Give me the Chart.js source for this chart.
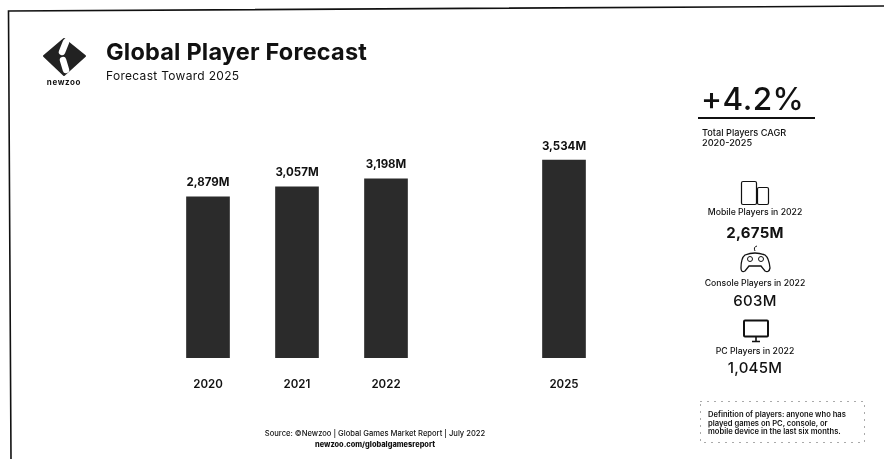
<!DOCTYPE html>
<html>
<head>
<meta charset="utf-8">
<title>Global Player Forecast</title>
<script src="https://cdn.jsdelivr.net/npm/chart.js@4/dist/chart.umd.min.js"></script>
<style>
  html, body { margin: 0; padding: 0; background: #fff; }
  body { width: 884px; height: 459px; position: relative; overflow: hidden; font-family: Inter, Arial, sans-serif; color: #111; }
  #wrap { position: absolute; left: 0; top: 0; width: 884px; height: 459px; }
  .t { position: absolute; white-space: nowrap; line-height: 1; }
  .c { transform: translateX(-50%); }
  svg { position: absolute; left: 0; top: 0; }
</style>
</head>
<body>
<div id="wrap"><canvas id="forecastChart" width="884" height="459"></canvas></div>

<svg width="884" height="459" fill="none" stroke="#111">
  <!-- page frame -->
  <path d="M884 6 L8.5 11 L11 459" stroke-width="1.6"/>

  <!-- logo -->
  <path d="M64 39 L85 56 L64 75 L44 56 Z" fill="#222" stroke="#222" stroke-width="2" stroke-linejoin="round"/>
  <path d="M66 42 L62 52" stroke="#fff" stroke-width="6.5" stroke-linecap="round"/>
  <path d="M63 60 L66 70" stroke="#fff" stroke-width="6.5" stroke-linecap="round"/>

  <!-- CAGR rule -->
  <line x1="698" y1="118" x2="815" y2="118" stroke-width="2"/>

  <!-- phone and tablet -->
  <rect x="741.5" y="181.5" width="15" height="23" rx="1.5" stroke-width="1.2"/>
  <rect x="757.5" y="187.5" width="11" height="17" rx="1.5" stroke-width="1.2"/>

  <!-- gamepad -->
  <path d="M745 255 Q755 251 765 255 Q769 258 770 268 Q769 273 765 271 L761 266 L749 266 L745 271 Q741 273 741 268 Q741 258 745 255 Z" stroke-width="1.3"/>
  <circle cx="750" cy="259" r="2.5" stroke-width="1"/>
  <circle cx="761" cy="259" r="2.5" stroke-width="1"/>
  <path d="M755 251 Q753 247 757 246" stroke-width="1"/>

  <!-- monitor -->
  <rect x="744" y="320.5" width="24" height="16" rx="1" stroke-width="2"/>
  <path d="M752 341.5 H760 M756 337 V341" stroke-width="1.6"/>

  <!-- definition box -->
  <rect x="700.5" y="401.5" width="164" height="41" stroke="#555" stroke-width="1" stroke-dasharray="1 6"/>
</svg>

<div class="t c" style="left:64px;top:78px;font-size:8px;font-weight:700;letter-spacing:.6px">newzoo</div>
<div class="t" style="left:106px;top:40px;font-size:23.5px;font-weight:700;letter-spacing:.2px">Global Player Forecast</div>
<div class="t" style="left:106px;top:70px;font-size:12px;letter-spacing:.3px">Forecast Toward 2025</div>

<div class="t" style="left:701px;top:83px;font-size:31.5px;font-weight:500;letter-spacing:.5px" id="cagr"></div>
<div class="t" style="left:702px;top:128px;font-size:9.2px;line-height:10px;font-weight:500">Total Players CAGR<br>2020-2025</div>

<div id="stats"></div>

<div class="t" style="left:708px;top:411px;font-size:7.6px;line-height:8.6px;font-weight:600">Definition of players: anyone who has<br>played games on PC, console, or<br>mobile device in the last six months.</div>

<div class="t c" style="left:375px;top:430px;font-size:7.6px;font-weight:500">Source: ©Newzoo | Global Games Market Report | July 2022</div>
<div class="t c" style="left:375px;top:441px;font-size:7.4px;font-weight:800">newzoo.com/globalgamesreport</div>

<script>
// the axis jumps from 2022 to 2025, so one empty slot stands in for the gap
const categories = ['2020', '2021', '2022', '', '2025'];
const players = [2879, 3057, 3198, null, 3534];

const cagrLabel = '+4.2%';
const platformNames = ['Mobile Players in 2022', 'Console Players in 2022', 'PC Players in 2022'];
const platformPlayers = [2675, 603, 1045];

function formatPlayers(value) {
    return value.toLocaleString('en-US') + 'M';
}

document.getElementById('cagr').textContent = cagrLabel;

// side panel rows, each with a caption and a figure under it
const rowTops = [208, 279, 347];
const figureTops = [225, 293, 360];
const figureWeights = [700, 500, 500];
const stats = document.getElementById('stats');
platformNames.forEach((name, i) => {
    const caption = document.createElement('div');
    caption.className = 't c';
    caption.style.cssText = 'left:755px;top:' + rowTops[i] + 'px;font-size:8.7px;font-weight:500';
    caption.textContent = name;
    stats.appendChild(caption);

    const figure = document.createElement('div');
    figure.className = 't c';
    figure.style.cssText = 'left:755px;top:' + figureTops[i] + 'px;font-size:15px;letter-spacing:.3px;font-weight:' + figureWeights[i];
    figure.textContent = formatPlayers(platformPlayers[i]);
    stats.appendChild(figure);
});

// value labels above the bars
const barValueLabels = {
    id: 'barValueLabels',
    afterDatasetsDraw(chart) {
        const ctx = chart.ctx;
        const meta = chart.getDatasetMeta(0);
        ctx.save();
        ctx.font = '700 11.5px Inter, Arial, sans-serif';
        ctx.fillStyle = '#111';
        ctx.textAlign = 'center';
        ctx.textBaseline = 'middle';
        players.forEach((value, i) => {
            if (value === null) return;
            const bar = meta.data[i];
            ctx.fillText(formatPlayers(value), bar.x, bar.y - 14);
        });
        ctx.restore();
    }
};

new Chart(document.getElementById('forecastChart').getContext('2d'), {
    type: 'bar',
    data: {
        labels: categories,
        datasets: [{
            label: 'Players',
            data: players,
            backgroundColor: '#2b2b2b',
            barThickness: 43
        }]
    },
    options: {
        responsive: false,
        animation: false,
        layout: {
            padding: { left: 163.5, right: 275.5, top: 134, bottom: 0 }
        },
        plugins: {
            legend: { display: false },
            tooltip: { enabled: false },
            title: { display: false }
        },
        scales: {
            y: {
                display: false,
                min: 0,
                max: 4000
            },
            x: {
                afterFit: function (scale) {
                    scale.height = 101;
                },
                border: { display: false },
                grid: { display: false, drawTicks: false },
                ticks: {
                    autoSkip: false,
                    maxRotation: 0,
                    padding: 20,
                    color: '#111',
                    font: { family: 'Inter, Arial, sans-serif', size: 11.5, weight: '600' }
                }
            }
        }
    },
    plugins: [barValueLabels]
});
</script>
</body>
</html>
